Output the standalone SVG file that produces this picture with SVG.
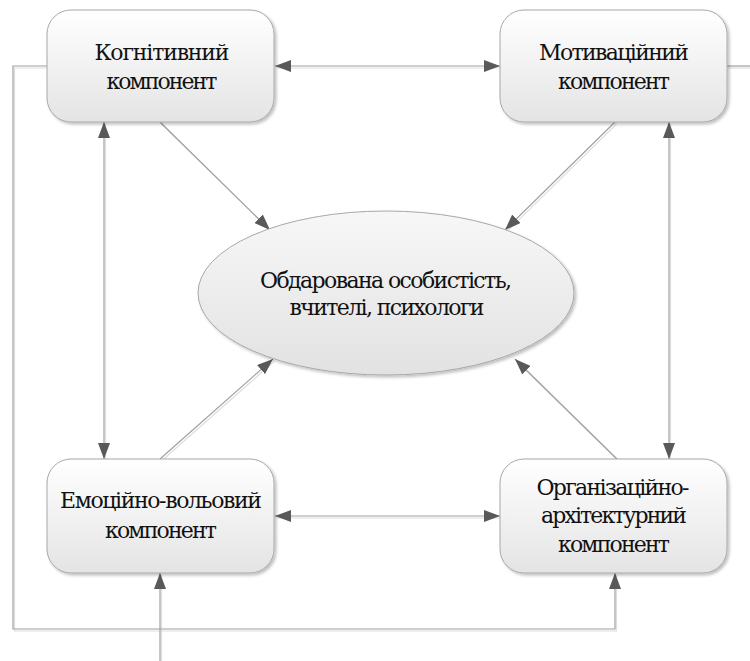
<svg xmlns="http://www.w3.org/2000/svg" width="750" height="661" viewBox="0 0 750 661">
<defs>
<linearGradient id="g" x1="0" y1="0" x2="0" y2="1">
<stop offset="0" stop-color="#ffffff"/>
<stop offset="1" stop-color="#e4e4e4"/>
</linearGradient>
<linearGradient id="ge" x1="0" y1="0" x2="0" y2="1">
<stop offset="0" stop-color="#f7f7f7"/>
<stop offset="1" stop-color="#e2e2e2"/>
</linearGradient>
<filter id="sh" x="-10%" y="-10%" width="120%" height="130%">
<feDropShadow dx="2" dy="2" stdDeviation="1.5" flood-color="#000" flood-opacity="0.25"/>
</filter>
<marker id="ah" viewBox="0 0 16 12" refX="16" refY="6" markerWidth="16" markerHeight="12" markerUnits="userSpaceOnUse" orient="auto-start-reverse">
<path d="M0,0 L16,6 L0,12 z" fill="#595959"/>
</marker>
<style>
.box{fill:url(#g);stroke:#a8a8a8;stroke-width:1;filter:url(#sh)}
.ell{fill:url(#ge);stroke:#a8a8a8;stroke-width:1;filter:url(#sh)}
text{font-family:'DejaVu Serif',serif;font-size:22px;fill:#111111;text-anchor:middle}
.c{fill:none;stroke:#a0a0a0;stroke-width:1.2}
.s{fill:none;stroke:#dedede;stroke-width:1.2}
.both{marker-start:url(#ah);marker-end:url(#ah)}
.end{marker-end:url(#ah)}
</style>
</defs>
<rect width="750" height="661" fill="#ffffff"/>
<g id="connectors">
<g transform="translate(1.5,2)">
<path class="s" d="M275,66 L500,66"/>
<path class="s" d="M275,516 L500,516"/>
<path class="s" d="M104,122 L104,459"/>
<path class="s" d="M669,122 L669,459"/>
<path class="s" d="M160,122 L270,230"/>
<path class="s" d="M615,122 L505,230"/>
<path class="s" d="M160,459 L273,359"/>
<path class="s" d="M617,459 L515,359"/>
<path class="s" d="M47,66 L13,66 L13,629 L615,629 L615,573"/>
<path class="s" d="M727,66 L750,66"/>
<path class="s" d="M160,661 L160,573"/>
</g>
<path class="c both" d="M275,66 L500,66"/>
<path class="c both" d="M275,516 L500,516"/>
<path class="c both" d="M104,122 L104,459"/>
<path class="c both" d="M669,122 L669,459"/>
<path class="c end" d="M160,122 L270,230"/>
<path class="c end" d="M615,122 L505,230"/>
<path class="c end" d="M160,459 L273,359"/>
<path class="c end" d="M617,459 L515,359"/>
<path class="c end" d="M47,66 L13,66 L13,629 L615,629 L615,573"/>
<path class="c" d="M727,66 L750,66"/>
<path class="c end" d="M160,661 L160,573"/>
</g>
<g id="node-kognityvnyi">
<rect class="box" x="47" y="10" width="227" height="112" rx="24"/>
<text x="162" y="60" textLength="135">Когнітивний</text>
<text x="162" y="89" textLength="111">компонент</text>
</g>
<g id="node-motyvatsiinyi">
<rect class="box" x="500" y="10" width="227" height="112" rx="24"/>
<text x="614" y="60" textLength="150">Мотиваційний</text>
<text x="614" y="89" textLength="112">компонент</text>
</g>
<g id="node-emotsiino">
<rect class="box" x="47" y="459" width="227" height="114" rx="24"/>
<text x="161" y="508" textLength="202">Емоційно-вольовий</text>
<text x="161" y="538" textLength="112">компонент</text>
</g>
<g id="node-orhanizatsiino">
<rect class="box" x="500" y="459" width="227" height="114" rx="24"/>
<text x="613" y="495" textLength="153">Організаційно-</text>
<text x="614" y="523" textLength="146">архітектурний</text>
<text x="614" y="552" textLength="112">компонент</text>
</g>
<g id="node-center">
<ellipse class="ell" cx="386" cy="293" rx="188" ry="82"/>
<text x="386" y="288" textLength="252">Обдарована особистість,</text>
<text x="387" y="315" textLength="195">вчителі, психологи</text>
</g>
</svg>
